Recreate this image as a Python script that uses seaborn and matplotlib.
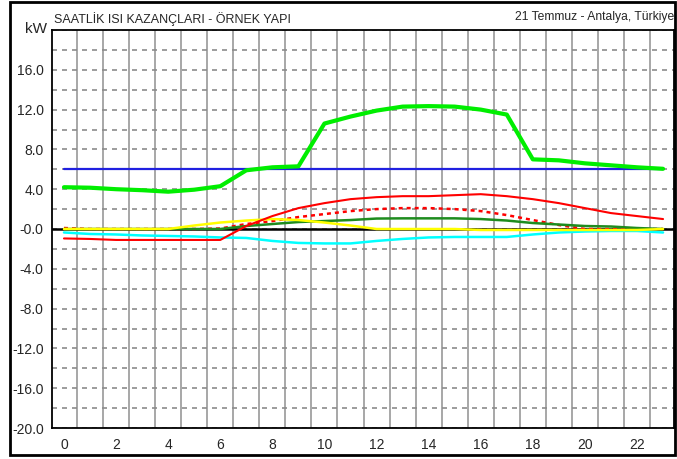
import numpy as np
import pandas as pd
import matplotlib
matplotlib.use("Agg")
import matplotlib.pyplot as plt
from matplotlib.ticker import MultipleLocator, FuncFormatter, FixedLocator
from matplotlib.patches import Rectangle
import seaborn as sns

hours = list(range(24))
total_gain = [4.2, 4.15, 4.0, 3.9, 3.75, 3.95, 4.3, 5.9, 6.2, 6.3, 10.6, 11.3,
              11.9, 12.3, 12.35, 12.3, 12.0, 11.5, 7.0, 6.9, 6.6, 6.4, 6.2, 6.05]
reference_load = [6.07] * 24
red_solid = [-0.95, -1.0, -1.1, -1.1, -1.1, -1.1, -1.1, 0.3, 1.3, 2.1, 2.6, 3.0,
             3.2, 3.3, 3.3, 3.4, 3.5, 3.3, 3.0, 2.6, 2.1, 1.6, 1.3, 1.0]
red_dotted = [0.1, 0.0, 0.0, 0.0, 0.0, 0.0, 0.05, 0.5, 0.8, 1.2, 1.5, 1.8,
              2.0, 2.1, 2.1, 2.0, 1.8, 1.4, 0.9, 0.4, 0.0, 0.0, 0.0, 0.0]
dark_green = [0.0, 0.0, 0.0, 0.0, 0.0, 0.0, 0.0, 0.3, 0.5, 0.7, 0.8, 0.9,
              1.05, 1.07, 1.07, 1.07, 1.0, 0.85, 0.6, 0.45, 0.3, 0.25, 0.1, 0.0]
yellow = [0.0, 0.0, 0.0, 0.0, 0.0, 0.35, 0.65, 0.85, 1.0, 0.9, 0.65, 0.35,
          0.0, 0.0, 0.0, 0.0, -0.1, -0.1, -0.1, -0.1, -0.1, -0.1, -0.1, 0.0]
cyan = [-0.35, -0.5, -0.55, -0.65, -0.7, -0.75, -0.85, -0.9, -1.2, -1.4, -1.45, -1.45,
        -1.2, -1.0, -0.85, -0.8, -0.8, -0.8, -0.55, -0.35, -0.25, -0.2, -0.2, -0.35]

title_left = "SAATLİK ISI KAZANÇLARI - ÖRNEK YAPI"
title_right = "21 Temmuz - Antalya, Türkiye"
unit_label = "kW"

sns.set_style("white")
plt.rcParams['font.family'] = ['Liberation Sans', 'DejaVu Sans']

fig = plt.figure(figsize=(6.77, 4.59), dpi=100)
fig.patch.set_facecolor("white")
ax = fig.add_axes([52/677, 31/459, 622/677, 398/459])
ax.set_facecolor("white")

df = pd.DataFrame({"hour": hours, "total": total_gain, "ref": reference_load,
                   "red": red_solid, "reddot": red_dotted, "dgreen": dark_green,
                   "yellow": yellow, "cyan": cyan})

ax.axhline(0, color="black", lw=1.8, zorder=2)
sns.lineplot(data=df, x="hour", y="reddot", ax=ax, color="#FF0000", lw=1.8,
             linestyle=(0, (1.6, 1.6)), zorder=3)
sns.lineplot(data=df, x="hour", y="dgreen", ax=ax, color="#1E8C1E", lw=1.8, zorder=4)
sns.lineplot(data=df, x="hour", y="cyan", ax=ax, color="#00FFFF", lw=1.8, zorder=4)
sns.lineplot(data=df, x="hour", y="yellow", ax=ax, color="#FFFF00", lw=1.8, zorder=4)
sns.lineplot(data=df, x="hour", y="red", ax=ax, color="#FF0000", lw=1.5, zorder=5)
sns.lineplot(data=df, x="hour", y="ref", ax=ax, color="#2020E0", lw=1.6, zorder=5)
sns.lineplot(data=df, x="hour", y="total", ax=ax, color="#00EE00", lw=3.0, zorder=6)

ax.set_xlim(-0.46, 23.42)
ax.set_ylim(-20, 20)
ax.set_xlabel("")
ax.set_ylabel("")

ax.xaxis.set_major_locator(MultipleLocator(1))
ax.xaxis.set_major_formatter(FuncFormatter(lambda v, p: f"{int(round(v))}" if int(round(v)) % 2 == 0 else ""))
ax.xaxis.set_minor_locator(FixedLocator([h + 0.5 for h in range(23)]))
ax.yaxis.set_major_locator(MultipleLocator(4))
ax.yaxis.set_minor_locator(MultipleLocator(2))

def yfmt(v, p):
    if abs(v) < 1e-9:
        return "-0.0"
    if v >= 20:
        return ""
    return f"{v:.1f}"
ax.yaxis.set_major_formatter(FuncFormatter(yfmt))

ax.tick_params(axis="x", which="major", direction="out", length=5, width=1.2,
               color="black", labelsize=10, pad=2)
ax.tick_params(axis="x", which="minor", length=0)
ax.tick_params(axis="y", which="both", direction="out", length=5, width=1.2,
               color="black", labelsize=10, pad=1)

ax.grid(False)
ax.xaxis.grid(True, which="minor", color="#A0A0A0", lw=1.3, ls="-")
ax.yaxis.grid(True, which="both", color="#8C8C8C", lw=1.2, ls=(0, (3, 3)))
ax.set_axisbelow(True)

for s in ax.spines.values():
    s.set_visible(True)
    s.set_color("black")
    s.set_linewidth(1.3)

fig.text(25/677, 1 - 29/459, unit_label, fontsize=11, va="center", ha="left")
fig.text(54/677, 1 - 19/459, title_left, fontsize=9, va="center", ha="left")
fig.text(674/677, 1 - 17/459, title_right, fontsize=8.7, va="center", ha="right")

fig.add_artist(Rectangle((10/677, 4/459), 665/677, 453/459, transform=fig.transFigure,
                         fill=False, edgecolor="black", lw=2))

fig.savefig("out.png", dpi=100, facecolor="white")
